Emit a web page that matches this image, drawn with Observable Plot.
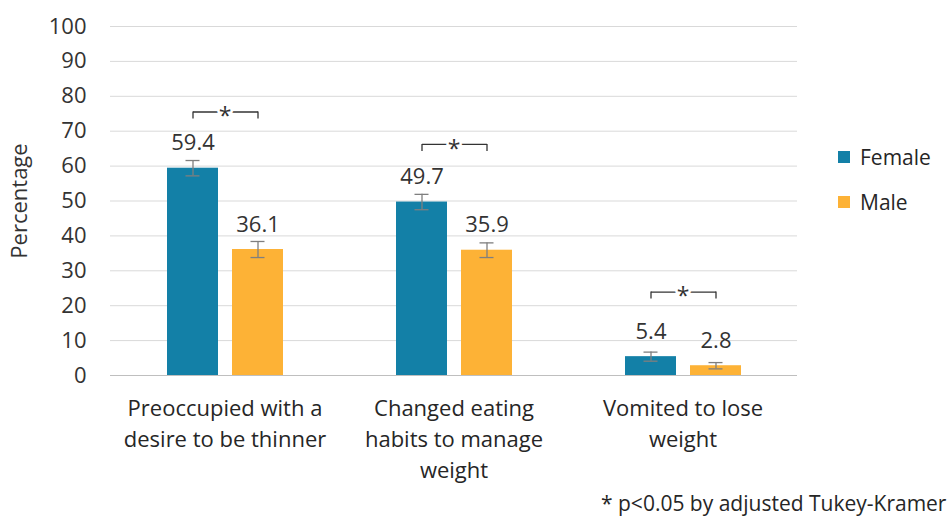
<!DOCTYPE html>
<html><head><meta charset="utf-8">
<script src="https://cdn.jsdelivr.net/npm/d3@7"></script>
<script src="https://cdn.jsdelivr.net/npm/@observablehq/plot@0.6"></script>
<style>
body{margin:0;background:#fff;font-family:"Open Sans",sans-serif;}
#wrap{position:relative;width:948px;height:516px;overflow:hidden;background:#fff}
.lg{position:absolute;left:838px;font-size:21px;color:#262626;white-space:nowrap;line-height:24px}
.lg span{display:inline-block;width:12px;height:12px;margin-right:10px;vertical-align:middle;position:relative;top:-2px}
#foot{position:absolute;left:601px;top:490px;font-size:21px;color:#262626;white-space:nowrap;line-height:26px}
</style></head><body><div id="wrap"></div><script>
const categories = ["Preoccupied with a desire to be thinner", "Changed eating habits to manage weight", "Vomited to lose weight"];
const categoryLabels = ["Preoccupied with a\ndesire to be thinner", "Changed eating\nhabits to manage\nweight", "Vomited to lose\nweight"];
const sexes = ["Female", "Male"];
const colors = ["#1380A7", "#FDB236"];
const female = [59.4, 49.7, 5.4];
const male = [36.1, 35.9, 2.8];
const femaleErr = [2.2, 2.2, 1.3];
const maleErr = [2.3, 2.1, 0.9];
const bracketY = [75.5, 66.2, 23.9];
const yTicks = [0, 10, 20, 30, 40, 50, 60, 70, 80, 90, 100];
const footnote = "* p<0.05 by adjusted Tukey-Kramer";

const rows = [];
categories.forEach((c, i) => {
  rows.push({cat: c, sex: "Female", value: female[i], err: femaleErr[i]});
  rows.push({cat: c, sex: "Male", value: male[i], err: maleErr[i]});
});
const brackets = categories.map((c, i) => ({cat: c, y: bracketY[i]}));
const bracketEnds = brackets.flatMap(b => sexes.map(s => ({cat: b.cat, sex: s, y: b.y})));
const ink = "#333333";
const errInk = "#7f7f7f";

const chart = Plot.plot({
  width: 948, height: 516,
  marginLeft: 110, marginRight: 151, marginTop: 26, marginBottom: 141,
  style: {fontFamily: "Open Sans", fontSize: "22px", color: ink, background: "white"},
  fx: {domain: categories, padding: 0, label: null},
  x: {domain: sexes, paddingInner: 0.22, paddingOuter: 0.86, axis: null},
  y: {domain: [0, 100], label: "Percentage"},
  color: {domain: sexes, range: colors},
  marks: [
    Plot.gridY(yTicks, {stroke: "#d9d9d9", strokeOpacity: 1, strokeWidth: 1}),
    Plot.axisY(yTicks, {tickSize: 0, tickPadding: 24, label: "Percentage", labelAnchor: "center", labelOffset: 99, labelArrow: "none", fontSize: 22, fill: ink}),
    Plot.axisFx({anchor: "bottom", tickSize: 0, tickPadding: 18, lineHeight: 1.42, fontSize: 22, fill: "#262626", label: null,
      tickFormat: c => categoryLabels[categories.indexOf(c)]}),
    Plot.ruleY([0], {stroke: "#bfbfbf", strokeWidth: 1}),
    Plot.barY(rows, {fx: "cat", x: "sex", y: "value", fill: "sex"}),
    Plot.ruleX(rows, {fx: "cat", x: "sex", y1: d => d.value - d.err, y2: d => d.value + d.err, stroke: errInk, strokeWidth: 1.3}),
    Plot.tickY(rows, {fx: "cat", x: "sex", y: d => d.value + d.err, insetLeft: 18.5, insetRight: 18.5, stroke: errInk, strokeWidth: 1.3}),
    Plot.tickY(rows, {fx: "cat", x: "sex", y: d => d.value - d.err, insetLeft: 18.5, insetRight: 18.5, stroke: errInk, strokeWidth: 1.3}),
    Plot.text(rows, {fx: "cat", x: "sex", y: "value", text: d => d.value.toFixed(1), dy: -25, lineAnchor: "middle", fill: ink, fontSize: 22}),
    Plot.link(brackets, {fx: "cat", x1: () => "Female", x2: () => "Male", y1: "y", y2: "y", stroke: ink, strokeWidth: 1.3}),
    Plot.ruleX(bracketEnds, {fx: "cat", x: "sex", y1: "y", y2: d => d.y - 2, stroke: ink, strokeWidth: 1.3}),
    Plot.text(brackets, {fx: "cat", y: "y", text: () => "*", stroke: "white", strokeWidth: 5, fill: ink, fontSize: 23, dy: 5, lineAnchor: "middle"})
  ]
});
const wrap = document.getElementById("wrap");
wrap.appendChild(chart);
const legendTops = [145, 190];
sexes.forEach((s, i) => {
  const d = document.createElement("div");
  d.className = "lg";
  d.style.top = legendTops[i] + "px";
  d.innerHTML = `<span style="background:${colors[i]}"></span>${s}`;
  wrap.appendChild(d);
});
const f = document.createElement("div");
f.id = "foot";
f.textContent = footnote;
wrap.appendChild(f);
</script></body></html>
